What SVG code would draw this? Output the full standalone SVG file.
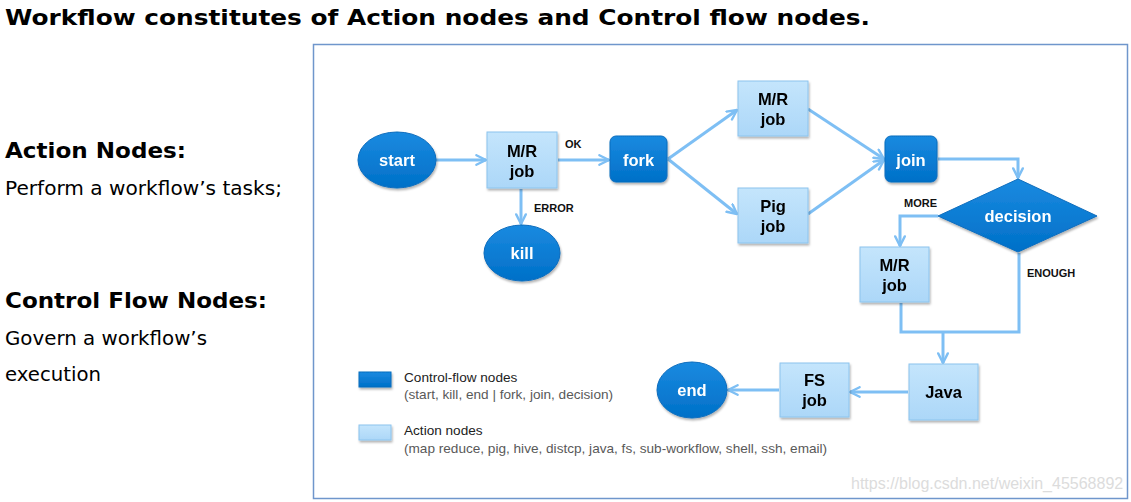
<svg xmlns="http://www.w3.org/2000/svg" width="1131" height="502" viewBox="0 0 1131 502">
<style>
.title{font-family:"DejaVu Sans",Verdana,sans-serif;font-weight:bold;font-size:22px;fill:#000}
.side{font-family:"DejaVu Sans",Verdana,sans-serif;font-size:19.5px;fill:#000}
.sideb{font-family:"DejaVu Sans",Verdana,sans-serif;font-weight:bold;font-size:21.5px;fill:#000}
.ctl{fill:url(#gDark);stroke:#0a6cbd;stroke-width:1}
.act{fill:url(#gLight);stroke:#8cc4ee;stroke-width:1}
.wt{font-family:"Liberation Sans",Arial,sans-serif;font-weight:bold;font-size:16.5px;fill:#fff;text-anchor:middle}
.bt{font-family:"Liberation Sans",Arial,sans-serif;font-weight:bold;font-size:16.5px;fill:#000;text-anchor:middle}
.lbl{font-family:"Liberation Sans",Arial,sans-serif;font-weight:bold;font-size:11px;fill:#111}
.leg{font-family:"Liberation Sans",Arial,sans-serif;font-size:13.6px;fill:#222}
.leg2{font-family:"Liberation Sans",Arial,sans-serif;font-size:13.6px;fill:#595959}
.wm{font-family:"Liberation Sans",Arial,sans-serif;font-size:16px;fill:#dcdcdc}
.con{fill:none;stroke:#7ebff4;stroke-width:3;marker-end:url(#arr)}
.conn{fill:none;stroke:#7ebff4;stroke-width:3}
</style>
<defs>
<linearGradient id="gDark" x1="0" y1="0" x2="0" y2="1">
<stop offset="0" stop-color="#1a8ae0"/><stop offset="1" stop-color="#0070c8"/>
</linearGradient>
<linearGradient id="gLight" x1="0" y1="0" x2="0" y2="1">
<stop offset="0" stop-color="#c4e5fc"/><stop offset="1" stop-color="#acd7f8"/>
</linearGradient>
<filter id="sh" x="-20%" y="-20%" width="140%" height="150%">
<feDropShadow dx="1" dy="2" stdDeviation="1.2" flood-color="#000" flood-opacity="0.3"/>
</filter>
<marker id="arr" viewBox="0 0 10 10" refX="9" refY="5" markerWidth="4" markerHeight="4" orient="auto" markerUnits="strokeWidth">
<polyline points="1,1 9,5 1,9" fill="none" stroke="#7ebff4" stroke-width="2" stroke-linecap="round" stroke-linejoin="round"/>
</marker>
</defs>
<rect width="1131" height="502" fill="#fff"/>
<text class="title" x="5" y="25" textLength="865" lengthAdjust="spacingAndGlyphs">Workflow constitutes of Action nodes and Control flow nodes.</text>
<text class="sideb" x="5" y="158" textLength="181" lengthAdjust="spacingAndGlyphs">Action Nodes:</text>
<text class="side" x="5" y="195" textLength="277" lengthAdjust="spacingAndGlyphs">Perform a workflow’s tasks;</text>
<text class="sideb" x="5" y="308" textLength="262" lengthAdjust="spacingAndGlyphs">Control Flow Nodes:</text>
<text class="side" x="5" y="345" textLength="202" lengthAdjust="spacingAndGlyphs">Govern a workflow’s</text>
<text class="side" x="5" y="381" textLength="96" lengthAdjust="spacingAndGlyphs">execution</text>
<rect x="313.5" y="44.5" width="814" height="454" fill="#fff" stroke="#6f96cc" stroke-width="1.5"/>
<g id="connectors">
<line class="con" x1="436" y1="160" x2="486" y2="160"/>
<line class="con" x1="558" y1="160" x2="609" y2="160"/>
<line class="con" x1="521" y1="189" x2="521" y2="224"/>
<line class="con" x1="668" y1="159" x2="737" y2="110"/>
<line class="con" x1="668" y1="159" x2="737" y2="214"/>
<line class="con" x1="808" y1="109" x2="884" y2="159"/>
<line class="con" x1="808" y1="214" x2="884" y2="160"/>
<polyline class="con" points="938,159 1018,159 1018,178"/>
<polyline class="con" points="938,216 900,216 900,246"/>
<polyline class="conn" points="901,303 901,332 1019,332 1019,253"/>
<line class="con" x1="943" y1="332" x2="943" y2="363"/>
<line class="con" x1="908" y1="392" x2="850" y2="392"/>
<line class="con" x1="779" y1="390" x2="728" y2="390"/>
</g>
<text class="lbl" x="565" y="148">OK</text>
<text class="lbl" x="534" y="212">ERROR</text>
<text class="lbl" x="904" y="207">MORE</text>
<text class="lbl" x="1027" y="277">ENOUGH</text>
<g id="start" filter="url(#sh)"><ellipse class="ctl" cx="397" cy="160" rx="39" ry="28"/><text class="wt" x="397" y="166">start</text></g>
<g id="mr1" filter="url(#sh)"><rect class="act" x="487" y="132" width="70" height="56"/><text class="bt" x="522" y="157">M/R</text><text class="bt" x="522" y="177">job</text></g>
<g id="kill" filter="url(#sh)"><ellipse class="ctl" cx="522" cy="253" rx="38" ry="28"/><text class="wt" x="522" y="259">kill</text></g>
<g id="fork" filter="url(#sh)"><rect class="ctl" x="610" y="136" width="57" height="46" rx="6"/><text class="wt" x="638.5" y="166">fork</text></g>
<g id="mr2" filter="url(#sh)"><rect class="act" x="738" y="81" width="70" height="55"/><text class="bt" x="773" y="105">M/R</text><text class="bt" x="773" y="125">job</text></g>
<g id="pig" filter="url(#sh)"><rect class="act" x="738" y="188" width="70" height="55"/><text class="bt" x="773" y="212">Pig</text><text class="bt" x="773" y="232">job</text></g>
<g id="join" filter="url(#sh)"><rect class="ctl" x="885" y="136" width="52" height="46" rx="6"/><text class="wt" x="911" y="166">join</text></g>
<g id="decision" filter="url(#sh)"><polygon class="ctl" points="938,216 1018,179 1097,216 1018,252"/><text class="wt" x="1018" y="222">decision</text></g>
<g id="mr3" filter="url(#sh)"><rect class="act" x="860" y="247" width="69" height="55"/><text class="bt" x="894.5" y="271">M/R</text><text class="bt" x="894.5" y="291">job</text></g>
<g id="java" filter="url(#sh)"><rect class="act" x="909" y="364" width="69" height="56"/><text class="bt" x="943.5" y="398">Java</text></g>
<g id="fs" filter="url(#sh)"><rect class="act" x="780" y="363" width="69" height="54"/><text class="bt" x="814.5" y="386">FS</text><text class="bt" x="814.5" y="406">job</text></g>
<g id="end" filter="url(#sh)"><ellipse class="ctl" cx="692" cy="390" rx="35" ry="28"/><text class="wt" x="692" y="396">end</text></g>
<g id="legend">
<rect class="ctl" x="359" y="372" width="32" height="15" filter="url(#sh)"/>
<rect class="act" x="359" y="425" width="32" height="15" filter="url(#sh)"/>
<text class="leg" x="404" y="382">Control-flow nodes</text>
<text class="leg2" x="404" y="399">(start, kill, end | fork, join, decision)</text>
<text class="leg" x="404" y="435">Action nodes</text>
<text class="leg2" x="404" y="453">(map reduce, pig, hive, distcp, java, fs, sub-workflow, shell, ssh, email)</text>
</g>
<text class="wm" x="851" y="489">https://blog.csdn.net/weixin_45568892</text>
</svg>
